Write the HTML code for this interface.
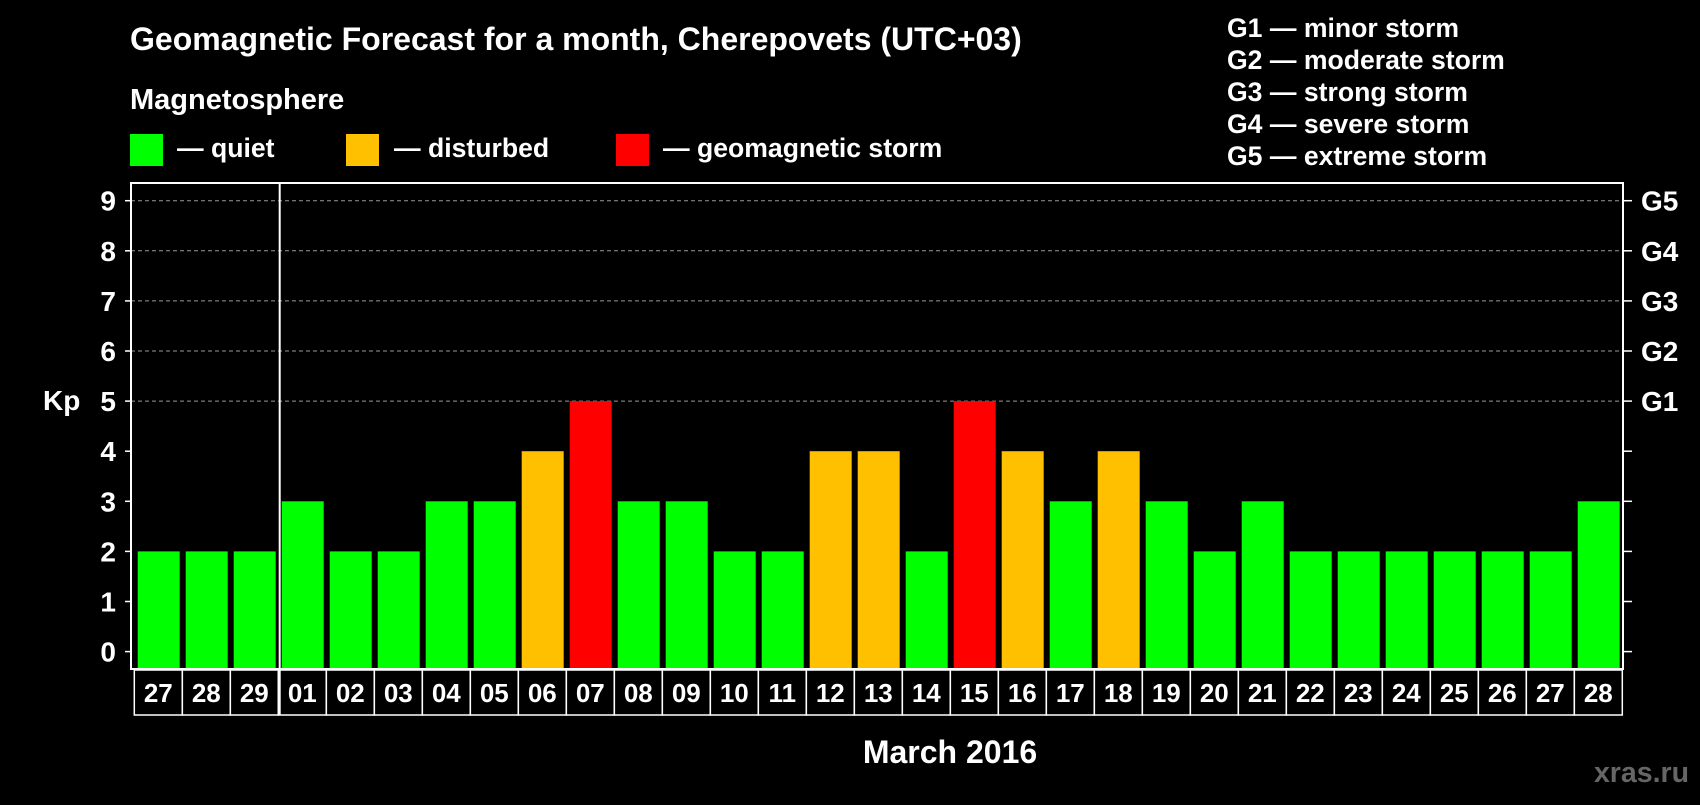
<!DOCTYPE html>
<html><head><meta charset="utf-8"><style>
body{margin:0;background:#000;width:1700px;height:800px;overflow:hidden;font-family:"Liberation Sans",Arial,sans-serif;font-weight:bold;color:#fff}
svg text{font-family:"Liberation Sans",Arial,sans-serif;font-weight:bold}
</style></head><body>
<svg id="c" width="1700" height="800" xmlns="http://www.w3.org/2000/svg">
<rect width="1700" height="800" fill="#000"/>
<text x="130" y="50" font-size="32" fill="#fff">Geomagnetic Forecast for a month, Cherepovets (UTC+03)</text>
<text x="130" y="109" font-size="29" fill="#fff">Magnetosphere</text>
<g><rect x="130" y="134" width="33" height="32" fill="#00ff00"/><text x="177" y="157" font-size="26.6" fill="#fff">— quiet</text></g>
<g><rect x="346" y="134" width="33" height="32" fill="#ffc000"/><text x="394" y="157" font-size="26.6" fill="#fff">— disturbed</text></g>
<g><rect x="616" y="134" width="33" height="32" fill="#ff0000"/><text x="663" y="157" font-size="26.6" fill="#fff">— geomagnetic storm</text></g>
<g font-size="26.6" fill="#fff">
<text x="1227" y="37">G1 — minor storm</text>
<text x="1227" y="69">G2 — moderate storm</text>
<text x="1227" y="101">G3 — strong storm</text>
<text x="1227" y="133">G4 — severe storm</text>
<text x="1227" y="165">G5 — extreme storm</text>
</g>
<text x="43" y="410" font-size="28" fill="#fff">Kp</text>
<text x="950" y="763" font-size="32" fill="#fff" text-anchor="middle">March 2016</text>
<text x="1689" y="782" font-size="28.5" fill="#666" text-anchor="end">xras.ru</text>
<g id="plot"></g>
</svg>
<script>
const days=["27","28","29","01","02","03","04","05","06","07","08","09","10","11","12","13","14","15","16","17","18","19","20","21","22","23","24","25","26","27","28"];
const kp=[2,2,2,3,2,2,3,3,4,5,3,3,2,2,4,4,2,5,4,3,4,3,2,3,2,2,2,2,2,2,3];
const yTicks=[0,1,2,3,4,5,6,7,8,9];
const gLabels=["G1","G2","G3","G4","G5"];
const gLevels=[5,6,7,8,9];
const NS="http://www.w3.org/2000/svg";
const L=131,R=1623,T=183,B=669,x0=137.7,step=48,bw=42;
const y=v=>651.6-v*50.1;
const xb=i=>x0+i*step;
const g=document.getElementById('plot');
function mk(t,a){const e=document.createElementNS(NS,t);for(const k in a)e.setAttribute(k,a[k]);g.appendChild(e);return e;}
yTicks.forEach(v=>{
 if(v>=5){const l=mk('line',{x1:L,x2:R,y1:y(v),y2:y(v),stroke:'#999','stroke-width':1,'stroke-dasharray':'4,3'});
 
 }
 const t1=mk('line',{x1:L-6,x2:L,y1:y(v),y2:y(v),stroke:'#fff','stroke-width':1.5});
 
 
 const t2=mk('line',{x1:R,x2:R+9,y1:y(v),y2:y(v),stroke:'#fff','stroke-width':1.5});
 
 
 const tx=mk('text',{x:116,y:y(v)+10,'font-size':28,fill:'#fff','text-anchor':'end'});
 tx.textContent=v;
 
 
});
gLabels.forEach((s,i)=>{
 const tx=mk('text',{x:1641,y:y(gLevels[i])+10,'font-size':28,fill:'#fff'});
 tx.textContent=s;
 
 
});
kp.forEach((v,i)=>{
 const c=v>=5?'#ff0000':v>=4?'#ffc000':'#00ff00';
 const r=mk('rect',{x:xb(i),y:y(v),width:bw,height:B-y(v),fill:c});
 
 
 const bx=mk('rect',{x:xb(i)-3.4,y:B+1,width:step,height:45,fill:'none',stroke:'#fff','stroke-width':1.5});
 
 
 const tx=mk('text',{x:xb(i)-3.4+step/2,y:B+33,'font-size':26,fill:'#fff','text-anchor':'middle'});
 tx.textContent=days[i];
 
 
});
const fr=mk('rect',{x:L,y:T,width:R-L,height:B-T,fill:'none',stroke:'#fff','stroke-width':2});


const sep=mk('line',{x1:279.7,x2:279.7,y1:T,y2:B+46,stroke:'#fff','stroke-width':2});


</script>
</body></html>
